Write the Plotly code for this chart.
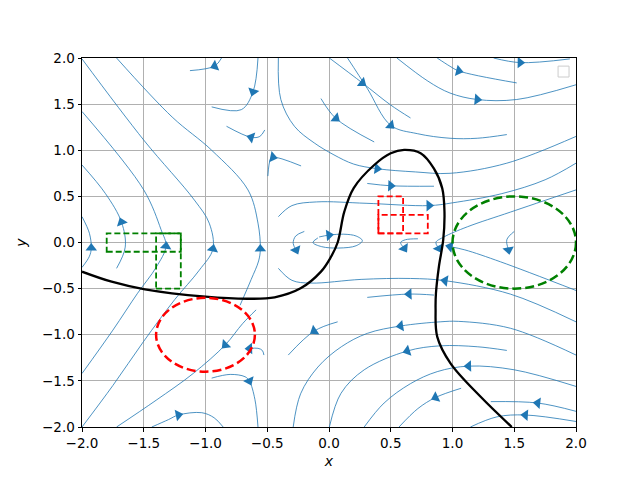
import math
import plotly.graph_objects as go

# --- streamlines, points listed in the direction of flow ---
s01 = [(-2.0, -2.0), (-1.75, -1.55), (-1.5, -1.07), (-1.25, -0.62), (-1.05, -0.3), (-0.94, -0.07),
       (-0.97, 0.21), (-1.09, 0.46), (-1.5, 1.11), (-2.0, 1.99)]
s02 = [(-2.0, -1.42), (-1.75, -0.95), (-1.55, -0.55), (-1.4, -0.27), (-1.32, -0.04), (-1.36, 0.14),
       (-1.5, 0.57), (-2.0, 1.42)]
s03 = [(-1.72, -0.28), (-1.65, -0.05), (-1.68, 0.22), (-1.81, 0.53), (-2.0, 0.84)]
s04 = [(-2.0, -0.27), (-1.94, -0.15), (-1.925, -0.06), (-1.94, 0.1), (-2.0, 0.28)]
s05 = [(-0.59, -0.73), (-0.7, -0.88), (-0.84, -1.11), (-1.1, -1.42), (-1.4, -1.71), (-1.72, -2.0)]
s06 = [(-0.72, -0.68), (-0.63, -0.4), (-0.57, -0.2), (-0.556, -0.07), (-0.575, 0.21), (-0.656, 0.57),
       (-0.95, 1.0), (-1.27, 1.36), (-1.72, 2.0)]
s07 = [(-0.95, -1.47), (-0.8, -1.43), (-0.68, -1.455), (-0.645, -1.5), (-0.6, -1.7), (-0.575, -2.0)]
s08 = [(-1.435, -2.0), (-1.3, -1.92), (-1.22, -1.87), (-1.03, -1.845), (-0.93, -1.9), (-0.857, -2.0)]
s09 = [(-0.527, -1.22), (-0.54, -1.17), (-0.575, -1.147), (-0.643, -1.15)]
s10 = [(0.07, -0.86), (-0.12, -0.96), (-0.33, -1.22)]
s11 = [(2.0, -0.86), (1.47, -0.56), (0.94, -0.414), (0.66, -0.39), (0.26, -0.4), (-0.145, -0.44),
       (-0.3, -0.41), (-0.41, -0.28)]
s12 = [(0.85, -0.57), (0.648, -0.559), (0.31, -0.595)]
s13 = [(2.0, -1.22), (1.47, -0.93), (1.05, -0.855), (0.9, -0.86), (0.58, -0.905), (0.31, -0.985),
       (0.1, -1.13), (-0.09, -1.35), (-0.23, -1.64), (-0.29, -2.0)]
s14 = [(1.44, -1.17), (1.2, -1.13), (0.9, -1.12), (0.634, -1.176), (0.285, -1.38), (0.097, -1.635),
       (0.003, -2.0)]
s15 = [(2.0, -1.56), (1.5, -1.38), (1.13, -1.34), (0.876, -1.40), (0.66, -1.53), (0.446, -1.74),
       (0.285, -2.0)]
s16 = [(1.07, -1.58), (0.863, -1.68), (0.72, -1.8), (0.567, -2.0)]
s17 = [(2.0, -1.83), (1.69, -1.74), (1.31, -1.725)]
s18 = [(2.0, -1.94), (1.59, -1.87), (1.36, -1.89), (1.145, -2.0)]
s19 = [(2.0, -0.52), (1.39, -0.21), (1.1, -0.08), (0.98, -0.045)]
s20 = [(2.0, 0.57), (1.47, 0.33), (1.12, 0.17), (0.93, 0.06), (0.865, 0.0), (0.89, -0.063)]
s21 = [(1.5, 0.12), (1.44, 0.03), (1.454, -0.08)]
s22 = [(0.72, 0.04), (0.62, 0.03), (0.58, 0.0), (0.61, -0.063)]
s23 = [(-0.2, 0.12), (-0.27, 0.07), (-0.29, -0.01), (-0.266, -0.08)]
s24 = [(-0.08, 0.06), (0.0, 0.08), (0.12, 0.09), (0.22, 0.07), (0.27, 0.02), (0.22, -0.035),
       (0.08, -0.06), (-0.06, -0.045), (-0.13, 0.0), (-0.09, 0.05)]
s25 = [(-0.41, 0.28), (-0.3, 0.4), (-0.1, 0.44), (0.3, 0.425), (0.81, 0.40), (1.0, 0.43),
       (1.4, 0.53), (1.75, 0.68), (2.0, 0.86)]
s26 = [(0.31, 0.64), (0.5, 0.615), (0.85, 0.61)]
s27 = [(-0.41, 2.0), (-0.39, 1.55), (-0.28, 1.26), (-0.12, 1.08), (0.04, 0.95), (0.2, 0.85),
       (0.39, 0.80), (0.7, 0.765), (0.98, 0.75), (1.44, 0.86), (2.0, 1.15)]
s28 = [(-0.495, 0.72), (-0.475, 0.9), (-0.455, 0.925), (-0.226, 0.83)]
s29 = [(-0.575, 2.0), (-0.615, 1.635), (-0.71, 1.44), (-0.95, 1.47)]
s30 = [(-0.52, 1.22), (-0.56, 1.15), (-0.63, 1.14), (-0.83, 1.26)]
s31 = [(-0.87, 2.0), (-0.925, 1.913), (-1.126, 1.863)]
s32 = [(0.003, 2.0), (0.27, 1.73), (0.5, 1.49), (0.66, 1.35)]
s33 = [(0.15, 2.0), (0.31, 1.67), (0.5, 1.27), (0.715, 1.18), (0.98, 1.13), (1.2, 1.13), (1.44, 1.17)]
s34 = [(0.55, 2.0), (0.8, 1.75), (0.98, 1.62), (1.2, 1.55), (1.52, 1.55), (2.0, 1.71)]
s35 = [(0.876, 2.0), (0.98, 1.91), (1.05, 1.86), (1.52, 1.73)]
s36 = [(1.333, 2.0), (1.548, 1.95), (1.95, 1.99)]
s37 = [(-0.065, 1.56), (0.056, 1.345), (0.366, 1.09)]

streams = [s01, s02, s03, s04, s05, s06, s07, s08, s09, s10, s11, s12, s13, s14, s15, s16, s17, s18, s19,
           s20, s21, s22, s23, s24, s25, s26, s27, s28, s29, s30, s31, s32, s33, s34, s35, s36, s37]
# vertex of each streamline that carries the arrow head
arrow_idx = [5, 4, 2, 2, 2, 3, 3, 2, 3, 1, 2, 1, 4, 3, 2, 1, 1, 1, 3,
             5, 2, 3, 3, 1, 4, 1, 6, 2, 1, 2, 1, 1, 2, 3, 2, 1, 1]

# barrier level curve
barrier_x = [-2.0, -1.76, -1.49, -1.0, -0.66, -0.44, -0.23, -0.065, 0.01, 0.07, 0.124, 0.2, 0.366, 0.5,
             0.608, 0.742, 0.85, 0.917, 0.935, 0.925, 0.89, 0.866, 0.863, 0.876, 0.984, 1.226, 1.48]
barrier_y = [-0.316, -0.425, -0.508, -0.587, -0.61, -0.594, -0.497, -0.316, -0.17, 0.0, 0.334, 0.59, 0.84,
             0.967, 1.003, 0.967, 0.80, 0.587, 0.334, 0.03, -0.26, -0.55, -0.72, -1.02, -1.31, -1.67, -2.0]

# sets
unsafe_center, unsafe_r = (-1.0, -1.0), 0.4
init_center, init_r = (1.5, 0.0), 0.5
red_boxes = [(0.4, 0.1, 0.6, 0.5), (0.4, 0.1, 0.8, 0.3)]
green_boxes = [(-1.8, -0.1, -1.2, 0.1), (-1.4, -0.5, -1.2, 0.1)]

BLUE = "#1f77b4"
PX_X, PX_Y = 124.0, 92.25  # pixels per data unit, used for arrow orientation

fig = go.Figure()

for pts, k in zip(streams, arrow_idx):
    xs = [p[0] for p in pts]
    ys = [p[1] for p in pts]
    fig.add_trace(go.Scatter(x=xs, y=ys, mode="lines",
                             line=dict(color=BLUE, width=0.8, shape="spline"),
                             hoverinfo="skip"))
    a = max(k - 1, 0)
    b = min(k + 1, len(pts) - 1)
    dx = (xs[b] - xs[a]) * PX_X
    dy = (ys[b] - ys[a]) * PX_Y
    ang = math.degrees(math.atan2(dx, dy))
    fig.add_trace(go.Scatter(x=[xs[k]], y=[ys[k]], mode="markers",
                             marker=dict(symbol="triangle-up", size=10, color=BLUE, angle=ang,
                                         line=dict(width=0)),
                             hoverinfo="skip"))

fig.add_trace(go.Scatter(x=barrier_x, y=barrier_y, mode="lines",
                         line=dict(color="black", width=2.3, shape="spline"), hoverinfo="skip"))

shapes = []
for (cx, cy), r, col in [(unsafe_center, unsafe_r, "red"), (init_center, init_r, "green")]:
    shapes.append(dict(type="circle", xref="x", yref="y", x0=cx - r, x1=cx + r, y0=cy - r, y1=cy + r,
                       line=dict(color=col, width=2.5, dash="9px,4px")))
for boxes, col in [(red_boxes, "red"), (green_boxes, "green")]:
    for x0, y0, x1, y1 in boxes:
        shapes.append(dict(type="rect", xref="x", yref="y", x0=x0, x1=x1, y0=y0, y1=y1,
                           line=dict(color=col, width=1.8, dash="6px,3px")))
# empty legend frame in the upper right corner
shapes.append(dict(type="rect", xref="paper", yref="paper", x0=0.9637, x1=0.9859, y0=0.9485, y1=0.978,
                   line=dict(color="#cccccc", width=1), fillcolor="white"))

axis = dict(range=[-2, 2], dtick=0.5, tick0=-2, tickformat=".1f", showline=True, mirror=True,
            linecolor="black", linewidth=1, ticks="outside", ticklen=3.5, tickcolor="black",
            showgrid=True, gridcolor="#b0b0b0", gridwidth=0.8, zeroline=False,
            tickfont=dict(family="DejaVu Sans", size=13.5, color="black"))

label_font = dict(family="DejaVu Sans", size=14, color="black")

# the page adds an 8px body margin, so margins are shifted to land the axes at 80..576 x 58..427
fig.update_layout(
    width=640, height=480,
    margin=dict(l=72, r=72, t=50, b=61),
    paper_bgcolor="white", plot_bgcolor="white",
    showlegend=False,
    shapes=shapes,
    xaxis=dict(axis, title=dict(text="<i>x</i>", font=label_font, standoff=6)),
    yaxis=dict(axis, title=dict(text="<i>y</i>", font=label_font, standoff=12)),
)

fig.write_html("out.html")
